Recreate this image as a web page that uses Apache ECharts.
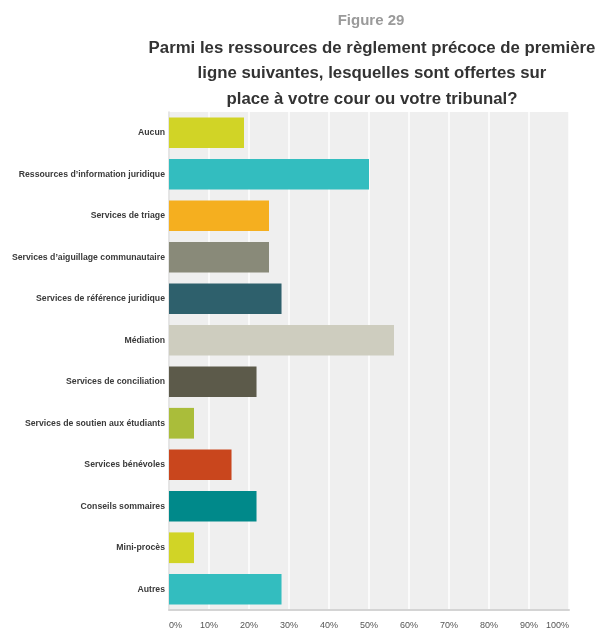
<!DOCTYPE html>
<html>
<head>
<meta charset="utf-8">
<script src="https://cdn.jsdelivr.net/npm/echarts@6/dist/echarts.min.js"></script>
<style>
  html, body { margin: 0; padding: 0; background: #ffffff; }
  #chart { width: 599px; height: 630px; }
</style>
</head>
<body>
<div id="chart"></div>
<script>
// Response categories, top to bottom
const categories = [
  "Aucun",
  "Ressources d’information juridique",
  "Services de triage",
  "Services d’aiguillage communautaire",
  "Services de référence juridique",
  "Médiation",
  "Services de conciliation",
  "Services de soutien aux étudiants",
  "Services bénévoles",
  "Conseils sommaires",
  "Mini-procès",
  "Autres"
];

// Share of respondents (%)
const values = [18.75, 50, 25, 25, 28.13, 56.25, 21.88, 6.25, 15.63, 21.88, 6.25, 28.13];

const barColors = [
  "#d1d426", "#33bdbf", "#f5af1f", "#898a79", "#2e606c", "#cecdbf",
  "#5c5a4a", "#aabd3a", "#c9461d", "#00898a", "#d1d426", "#33bdbf"
];

const xTicks = [0, 10, 20, 30, 40, 50, 60, 70, 80, 90, 100];

const figureLabel = "Figure 29";
const titleLines = [
  "Parmi les ressources de règlement précoce de première",
  "ligne suivantes, lesquelles sont offertes sur",
  "place à votre cour ou votre tribunal?"
];

const FONT = '"Liberation Sans", Arial, Helvetica, sans-serif';
const chart = echarts.init(document.getElementById("chart"), null, { renderer: "canvas" });

const graphics = [{
  type: "text",
  style: { text: figureLabel, x: 371, y: 21, textAlign: "center", textVerticalAlign: "middle",
           font: "bold 15px " + FONT, fill: "#9a9a9a" }
}];
titleLines.forEach((line, i) => {
  graphics.push({
    type: "text",
    style: { text: line, x: 372, y: 48 + i * 25.5, textAlign: "center", textVerticalAlign: "middle",
             font: "bold 16.8px " + FONT, fill: "#333333" }
  });
});

chart.setOption({
  animation: false,
  backgroundColor: "#ffffff",
  graphic: graphics,
  grid: { left: 169, right: 30, top: 112, bottom: 18, containLabel: false,
          show: true, backgroundColor: "#efefef", borderWidth: 0 },
  xAxis: {
    type: "value",
    min: 0, max: 100, interval: 10,
    axisLine: { show: true, lineStyle: { color: "#d4d4d4", width: 2 } },
    axisTick: { show: false },
    splitLine: { show: true, lineStyle: { color: "#ffffff", width: 1.5 } },
    axisLabel: {
      color: "#555555", fontSize: 9, fontFamily: FONT, margin: 11,
      alignMinLabel: "left", alignMaxLabel: "right",
      formatter: v => xTicks.includes(v) ? v + "%" : ""
    }
  },
  yAxis: {
    type: "category",
    data: categories,
    inverse: true,
    axisLine: { show: true, lineStyle: { color: "#dcdcdc", width: 1.5 } },
    axisTick: { show: false },
    axisLabel: { color: "#3a3a3a", fontSize: 8.7, fontWeight: "bold", fontFamily: FONT, margin: 4 }
  },
  series: [{
    type: "bar",
    data: values.map((v, i) => ({ value: v, itemStyle: { color: barColors[i] } })),
    barCategoryGap: "26%",
    silent: true
  }]
});
</script>
</body>
</html>
